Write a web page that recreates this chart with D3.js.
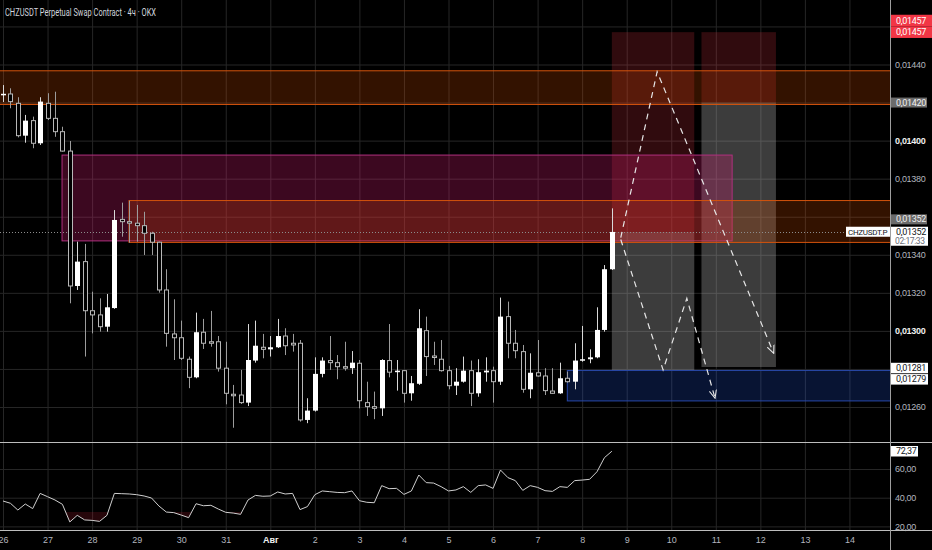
<!DOCTYPE html>
<html>
<head>
<meta charset="utf-8">
<script src="https://cdn.jsdelivr.net/npm/d3@7/dist/d3.min.js"></script>
<style>
  html, body { margin: 0; padding: 0; background: #000; }
  svg { display: block; font-family: Roboto, "Noto Sans", sans-serif; }
  .axis .domain { display: none; }
  .grid line { stroke: #262626; }
  .labels line { display: none; }
</style>
</head>
<body>
<div id="chart"></div>
<script>
const width = 932, height = 550;
const plotW = 890, mainBottom = 442, rsiBottom = 530;

// 4h candles from 26 Jul 00:00, prices in 1e-5 USDT (1352 = 0,01352)
const opens = [
  1424.0, 1424.5, 1419.6, 1402.6, 1410.5, 1398.6, 1419.6, 1411.7, 1404.7, 1394.5,
  1323.6, 1336.4, 1310.6, 1308.4, 1302.2, 1312.0, 1358.6, 1357.4, 1356.6, 1355.3,
  1351.3, 1346.6, 1321.5, 1298.4, 1296.4, 1285.1, 1275.6, 1299.3, 1294.3, 1294.3,
  1280.4, 1266.7, 1266.3, 1262.3, 1284.4, 1291.4, 1290.3, 1291.4, 1297.3, 1293.5,
  1293.5, 1253.2, 1258.1, 1277.4, 1284.4, 1283.3, 1281.2, 1280.4, 1283.0, 1262.3,
  1260.2, 1259.3, 1284.4, 1278.3, 1279.1, 1267.2, 1272.2, 1300.1, 1286.8, 1285.1,
  1279.1, 1271.2, 1273.3, 1279.1, 1267.2, 1278.2, 1279.1, 1273.3, 1307.5, 1293.5,
  1289.1, 1269.3, 1278.0, 1276.3, 1268.4, 1267.2, 1275.1, 1273.3, 1284.4, 1285.1,
  1286.1, 1300.5, 1332.4
];
const highs = [
  1429.2, 1427.5, 1422.8, 1413.5, 1412.6, 1422.8, 1424.9, 1425.7, 1407.3, 1399.8,
  1346.9, 1345.7, 1320.6, 1317.1, 1319.4, 1363.5, 1367.4, 1368.4, 1366.2, 1362.6,
  1352.1, 1346.9, 1332.4, 1316.6, 1305.4, 1286.5, 1309.6, 1306.3, 1310.5, 1297.3,
  1294.3, 1271.6, 1279.5, 1303.6, 1305.4, 1298.4, 1297.3, 1306.3, 1301.4, 1298.4,
  1295.2, 1264.6, 1286.1, 1286.1, 1297.3, 1287.3, 1294.3, 1289.4, 1284.7, 1273.3,
  1268.1, 1285.1, 1303.6, 1284.7, 1279.5, 1276.3, 1311.4, 1307.5, 1294.3, 1295.2,
  1281.6, 1280.4, 1286.5, 1284.4, 1285.1, 1286.1, 1281.2, 1317.5, 1315.4, 1300.5,
  1292.6, 1288.2, 1295.2, 1280.4, 1280.4, 1283.3, 1278.6, 1293.5, 1302.6, 1290.3,
  1312.4, 1334.6, 1364.4
];
const lows = [
  1420.3, 1417.0, 1401.7, 1398.9, 1396.0, 1397.7, 1410.8, 1402.0, 1394.2, 1314.5,
  1321.5, 1286.5, 1298.7, 1299.6, 1299.6, 1311.6, 1349.5, 1346.4, 1346.9, 1339.9,
  1339.9, 1320.1, 1291.7, 1284.7, 1284.7, 1269.9, 1275.1, 1290.5, 1291.7, 1278.6,
  1261.4, 1249.1, 1261.6, 1260.5, 1283.3, 1285.6, 1286.5, 1291.0, 1287.3, 1289.1,
  1252.3, 1251.5, 1257.6, 1275.6, 1279.5, 1274.6, 1279.1, 1277.4, 1259.3, 1255.3,
  1253.6, 1255.3, 1275.6, 1268.6, 1262.3, 1263.3, 1271.6, 1276.3, 1282.1, 1278.6,
  1269.3, 1266.3, 1272.8, 1260.5, 1265.4, 1273.3, 1262.3, 1271.6, 1285.6, 1285.6,
  1267.5, 1264.6, 1276.0, 1266.3, 1266.9, 1266.9, 1272.8, 1269.3, 1283.8, 1283.0,
  1285.6, 1299.6, 1332.0
];
const closes = [
  1424.6, 1420.5, 1402.6, 1410.5, 1398.6, 1420.5, 1411.7, 1404.7, 1394.5, 1323.6,
  1336.4, 1310.6, 1308.4, 1302.2, 1312.4, 1358.3, 1357.4, 1356.6, 1355.3, 1351.3,
  1346.6, 1321.5, 1298.7, 1296.4, 1285.6, 1275.6, 1299.3, 1293.5, 1293.5, 1280.4,
  1267.2, 1266.2, 1262.3, 1284.7, 1292.2, 1290.3, 1291.4, 1297.3, 1292.2, 1292.6,
  1253.2, 1258.1, 1277.4, 1284.4, 1283.3, 1281.2, 1280.4, 1283.3, 1263.3, 1260.2,
  1259.3, 1284.7, 1278.3, 1279.1, 1267.2, 1272.5, 1301.4, 1286.5, 1286.1, 1279.1,
  1271.2, 1273.3, 1279.1, 1267.2, 1278.3, 1279.1, 1273.3, 1307.5, 1293.5, 1289.6,
  1269.3, 1278.0, 1276.3, 1268.6, 1267.2, 1275.1, 1273.3, 1284.4, 1285.1, 1286.1,
  1300.5, 1332.4, 1352.0
];
const rsiValues = [
  37.7, 36.1, 31.4, 35.6, 32.4, 43.0, 40.7, 38.4, 35.4, 23.1,
  27.7, 24.5, 24.2, 23.5, 27.7, 43.0, 42.8, 42.6, 42.1, 41.2,
  39.8, 34.2, 30.0, 29.6, 27.9, 26.1, 35.8, 34.4, 34.7, 32.1,
  29.8, 29.3, 28.4, 38.4, 41.6, 41.0, 41.2, 44.0, 42.6, 43.0,
  31.7, 33.8, 42.1, 44.7, 44.2, 43.7, 43.5, 44.7, 37.9, 36.8,
  36.5, 48.4, 46.3, 46.5, 42.3, 44.7, 55.8, 50.5, 50.2, 47.7,
  44.7, 45.4, 47.7, 43.7, 48.4, 48.9, 46.5, 59.3, 54.0, 51.9,
  45.1, 48.4, 47.2, 44.9, 44.4, 47.7, 47.2, 51.9, 52.3, 52.8,
  58.1, 67.9, 72.37
];

const dayIndex = d3.range(0, 120, 6);
const dayLabels = ["26", "27", "28", "29", "30", "31", "Авг", "2", "3", "4",
  "5", "6", "7", "8", "9", "10", "11", "12", "13", "14"];
const priceTicks = [1440, 1400, 1380, 1340, 1320, 1300, 1260];
const gridTicks = d3.range(1260, 1461, 20);
const rsiTicks = [60, 40, 20];

// zones: supply, fvg, order block, demand (candle index, price)
const zoneFrom = [-5, 7.95, 16.97, 76];
const zoneTo = [130, 98.2, 130, 130];
const zoneLow = [1419, 1347.3, 1346.5, 1263.2];
const zoneHigh = [1436.7, 1392.4, 1368.5, 1279.2];

// position boxes
const boxFrom = [82, 94.07];
const boxTo = [93.1, 104.1];
const boxTop = [1457, 1457];
const boxEntry = [1352, 1420];
const boxBottom = [1279, 1281];

// projected paths [candle index, price]
const pathUp = [[83.2, 1349], [88.1, 1436.2], [103.8, 1288.2]];
const pathDown = [[83.2, 1348], [88.9, 1279.5], [92.1, 1317.1], [95.9, 1264.6]];

const lastPrice = 1352;
const lastRsi = 72.37;

const fmtPrice = d => "0,0" + d;

const x = d3.scaleLinear().domain([0, 82]).range([3, 611.85]);
const y = d3.scaleLinear().domain([1260, 1440]).range([407, 64.5]);
const yR = d3.scaleLinear().domain([20, 60]).range([526.4, 469]);

const svg = d3.select("#chart")
  .append("svg")
  .attr("width", width)
  .attr("height", height);

svg.append("rect").attr("width", width).attr("height", height).attr("fill", "#000");

const defs = svg.append("defs");
defs.append("clipPath").attr("id", "clipMain")
  .append("rect").attr("width", plotW).attr("height", mainBottom);
defs.append("clipPath").attr("id", "clipRsi")
  .append("rect").attr("y", mainBottom).attr("width", plotW).attr("height", rsiBottom - mainBottom);
defs.append("clipPath").attr("id", "clipOversold")
  .append("rect").attr("y", yR(30)).attr("width", plotW).attr("height", rsiBottom - yR(30));
defs.append("marker")
  .attr("id", "arrow")
  .attr("viewBox", "0 0 10 10")
  .attr("refX", 9).attr("refY", 5)
  .attr("markerWidth", 9).attr("markerHeight", 9)
  .attr("markerUnits", "userSpaceOnUse")
  .attr("orient", "auto")
  .append("path")
  .attr("d", "M0,1 L9,5 L0,9")
  .attr("fill", "none")
  .attr("stroke", "#e6e6e6")
  .attr("stroke-width", 1.2);

// ---- grid ----
svg.append("g")
  .attr("class", "axis grid")
  .attr("transform", `translate(0,${rsiBottom})`)
  .call(d3.axisBottom(x).tickValues(dayIndex).tickSize(-rsiBottom).tickFormat(""));

svg.append("g")
  .attr("class", "axis grid")
  .attr("clip-path", "url(#clipMain)")
  .call(d3.axisLeft(y).tickValues(gridTicks).tickSize(-plotW).tickFormat(""));

svg.append("g")
  .attr("class", "axis grid")
  .call(d3.axisLeft(yR).tickValues(rsiTicks).tickSize(-plotW).tickFormat(""));

// ---- main pane drawings ----
const main = svg.append("g").attr("clip-path", "url(#clipMain)");

boxFrom.forEach((f, i) => {
  main.append("rect")
    .attr("x", x(f)).attr("width", x(boxTo[i]) - x(f))
    .attr("y", y(boxTop[i])).attr("height", y(boxEntry[i]) - y(boxTop[i]))
    .attr("fill", "rgba(242,54,69,0.2)");
  main.append("rect")
    .attr("x", x(f)).attr("width", x(boxTo[i]) - x(f))
    .attr("y", y(boxEntry[i])).attr("height", y(boxBottom[i]) - y(boxEntry[i]))
    .attr("fill", "rgba(200,200,200,0.3)");
});

const zoneFill = ["rgba(230,81,0,0.22)", "rgba(220,30,120,0.27)", "rgba(230,81,0,0.22)", "rgba(41,98,255,0.2)"];
const zoneStroke = ["#d4530c", "#b0307f", "#d4530c", "#2848a8"];
zoneFrom.forEach((f, i) => {
  main.append("rect")
    .attr("x", x(f)).attr("width", x(zoneTo[i]) - x(f))
    .attr("y", y(zoneHigh[i])).attr("height", y(zoneLow[i]) - y(zoneHigh[i]))
    .attr("fill", zoneFill[i])
    .attr("stroke", zoneStroke[i])
    .attr("stroke-width", 1);
});

// last price dotted line
main.append("line")
  .attr("x1", 0).attr("x2", 846)
  .attr("y1", Math.round(y(lastPrice)) + 0.5).attr("y2", Math.round(y(lastPrice)) + 0.5)
  .attr("stroke", "#8c8c8c")
  .attr("stroke-dasharray", "1,2");

// candles
const candles = opens.map((o, i) => ({ i, o, h: highs[i], l: lows[i], c: closes[i] }));
const cg = main.append("g");
cg.selectAll(".wick")
  .data(candles)
  .enter().append("line")
  .attr("class", "wick")
  .attr("x1", d => Math.round(x(d.i)) + 0.5)
  .attr("x2", d => Math.round(x(d.i)) + 0.5)
  .attr("y1", d => y(d.h))
  .attr("y2", d => y(d.l))
  .attr("stroke", d => d.c >= d.o ? "#d9d9d9" : "#9c9c9c");

cg.selectAll(".body")
  .data(candles)
  .enter().append("rect")
  .attr("class", "body")
  .attr("x", d => Math.round(x(d.i)) - 2 + (d.c >= d.o ? 0 : 0.5))
  .attr("width", d => d.c >= d.o ? 5 : 4)
  .attr("y", d => y(Math.max(d.o, d.c)))
  .attr("height", d => Math.max(1.5, Math.abs(y(d.o) - y(d.c))))
  .attr("fill", d => d.c >= d.o ? "#fff" : "#000")
  .attr("stroke", d => d.c >= d.o ? "none" : "#b8b8b8")
  .attr("stroke-width", 1);

// projections
const line = d3.line().x(d => x(d[0])).y(d => y(d[1]));
[pathUp, pathDown].forEach(p => {
  main.append("path")
    .attr("d", line(p))
    .attr("fill", "none")
    .attr("stroke", "#e6e6e6")
    .attr("stroke-width", 1.2)
    .attr("stroke-dasharray", "6,5")
    .attr("marker-end", "url(#arrow)");
});

// ---- RSI pane ----
const rsiData = rsiValues.map((v, i) => [i, v]);
svg.append("path")
  .attr("clip-path", "url(#clipOversold)")
  .attr("d", d3.area().x(d => x(d[0])).y0(yR(30)).y1(d => yR(d[1]))(rsiData))
  .attr("fill", "rgba(190,30,50,0.2)");
svg.append("path")
  .attr("clip-path", "url(#clipRsi)")
  .attr("d", d3.line().x(d => x(d[0])).y(d => yR(d[1]))(rsiData))
  .attr("fill", "none")
  .attr("stroke", "#cfcfcf")
  .attr("stroke-width", 1);

// ---- separators ----
[mainBottom, rsiBottom].forEach(v => {
  svg.append("line")
    .attr("x1", 0).attr("x2", width)
    .attr("y1", v + 0.5).attr("y2", v + 0.5)
    .attr("stroke", "#bdbdbd");
});
svg.append("line")
  .attr("x1", plotW + 0.5).attr("x2", plotW + 0.5)
  .attr("y1", 0).attr("y2", height)
  .attr("stroke", "#9e9e9e");

// ---- axes labels ----
const priceAxis = svg.append("g")
  .attr("class", "axis labels")
  .attr("transform", `translate(${plotW},0)`)
  .call(d3.axisRight(y).tickValues(priceTicks).tickSize(0).tickPadding(5).tickFormat(fmtPrice));
priceAxis.selectAll("text")
  .attr("font-size", 9)
  .attr("letter-spacing", -0.3)
  .attr("fill", d => d % 100 === 0 ? "#f0f0f0" : "#b2b5be")
  .attr("font-weight", d => d % 100 === 0 ? "bold" : "normal");

const rsiAxis = svg.append("g")
  .attr("class", "axis labels")
  .attr("transform", `translate(${plotW},0)`)
  .call(d3.axisRight(yR).tickValues(rsiTicks).tickSize(0).tickPadding(5).tickFormat(d => d + ",00"));
rsiAxis.selectAll("text")
  .attr("font-size", 9)
  .attr("letter-spacing", -0.3)
  .attr("fill", "#b2b5be");

const timeAxis = svg.append("g")
  .attr("class", "axis labels")
  .attr("transform", `translate(0,${rsiBottom})`)
  .call(d3.axisBottom(x).tickValues(dayIndex).tickSize(0).tickPadding(7).tickFormat((d, i) => dayLabels[i]));
timeAxis.selectAll("text")
  .attr("font-size", 9)
  .attr("fill", (d, i) => dayLabels[i] === "Авг" ? "#f0f0f0" : "#b2b5be")
  .attr("font-weight", (d, i) => dayLabels[i] === "Авг" ? "bold" : "normal");

// ---- price tags ----
function tag(cy, text, bg, fg, x0, w, h) {
  svg.append("rect")
    .attr("x", x0).attr("y", cy - h / 2)
    .attr("width", w).attr("height", h)
    .attr("fill", bg);
  svg.append("text")
    .attr("x", x0 + 5).attr("y", cy)
    .attr("dy", "0.34em")
    .attr("font-size", 9)
    .attr("letter-spacing", -0.3)
    .attr("fill", fg)
    .text(text);
}

tag(y(boxTop[0]) - 11.6, fmtPrice(boxTop[0]), "#f23645", "#fff", plotW + 1, 41, 11.6);
tag(y(boxTop[1]), fmtPrice(boxTop[1]), "#f23645", "#fff", plotW + 1, 41, 11.6);
tag(y(boxEntry[1]), fmtPrice(boxEntry[1]), "#6b6b6b", "#f0f0f0", plotW + 1, 36, 10);
tag(y(lastPrice) - 12.6, fmtPrice(lastPrice), "#6b6b6b", "#f0f0f0", plotW + 1, 36, 10);

// last price tag with symbol and countdown
svg.append("rect")
  .attr("x", 846).attr("y", y(lastPrice) - 5.2)
  .attr("width", 44).attr("height", 10)
  .attr("fill", "#fff");
svg.append("text")
  .attr("x", 848).attr("y", y(lastPrice))
  .attr("dy", "0.34em")
  .attr("font-size", 8)
  .attr("letter-spacing", -0.3)
  .attr("fill", "#131722")
  .text("CHZUSDT.P");
svg.append("rect")
  .attr("x", plotW + 1).attr("y", y(lastPrice) - 5.2)
  .attr("width", 37).attr("height", 19)
  .attr("fill", "#fff");
svg.append("text")
  .attr("x", plotW + 6).attr("y", y(lastPrice))
  .attr("dy", "0.34em")
  .attr("font-size", 9)
  .attr("letter-spacing", -0.3)
  .attr("fill", "#131722")
  .text(fmtPrice(lastPrice));
svg.append("text")
  .attr("x", plotW + 5).attr("y", y(lastPrice) + 9.5)
  .attr("dy", "0.34em")
  .attr("font-size", 8.5)
  .attr("letter-spacing", -0.4)
  .attr("fill", "#6a6d78")
  .text("02:17:33");

tag(y(boxBottom[1]) + 1, fmtPrice(boxBottom[1]), "#fff", "#131722", plotW + 1, 37, 10.5);
tag(y(boxBottom[0]) + 8.5, fmtPrice(boxBottom[0]), "#fff", "#131722", plotW + 1, 37, 10.5);
tag(yR(lastRsi), String(lastRsi).replace(".", ","), "#fff", "#131722", plotW + 1, 27, 10.5);

// ---- title ----
svg.append("text")
  .attr("x", 5).attr("y", 15.5)
  .attr("font-size", 10.5)
  .attr("fill", "#d1d4dc")
  .attr("textLength", 151)
  .attr("lengthAdjust", "spacingAndGlyphs")
  .text("CHZUSDT Perpetual Swap Contract · 4ч · OKX");
</script>
</body>
</html>
